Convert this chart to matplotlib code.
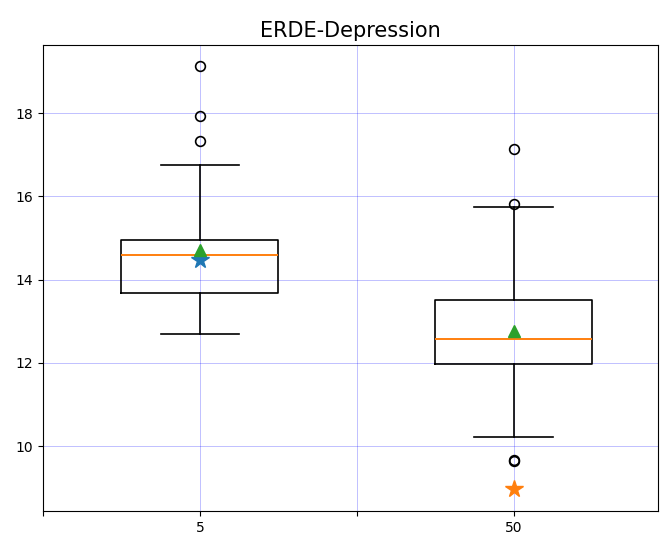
import numpy as np
import matplotlib
matplotlib.use("Agg")
import matplotlib.pyplot as plt

labels = ['5', '50']
whislo = [12.69, 10.21]
q1 = [13.67, 11.97]
med = [14.59, 12.57]
q3 = [14.96, 13.51]
whishi = [16.75, 15.74]
means = [14.70, 12.77]
fliers = [[17.33, 17.93, 19.14], [9.65, 9.67, 15.81, 17.14]]
stars = [14.47, 8.96]

stats = []
for i in range(len(labels)):
    stats.append(dict(whislo=whislo[i], q1=q1[i], med=med[i], q3=q3[i],
                      whishi=whishi[i], mean=means[i], fliers=fliers[i],
                      label=labels[i]))

positions = [1, 3]

fig = plt.figure(figsize=(6.6, 5.38), dpi=100)
ax = fig.add_axes([0.065, 0.05, 0.932, 0.866])

lw = 1.2
ax.bxp(stats, positions=positions, widths=1.0, showmeans=True,
       boxprops=dict(linewidth=lw), whiskerprops=dict(linewidth=lw),
       capprops=dict(linewidth=lw), medianprops=dict(linewidth=1.4, color='tab:orange'),
       flierprops=dict(markeredgewidth=1.2, markersize=7),
       meanprops=dict(marker='^', markerfacecolor='tab:green',
                      markeredgecolor='tab:green', markersize=8))
ax.plot(positions[0], stars[0], '*', color='tab:blue', markersize=13)
ax.plot(positions[1], stars[1], '*', color='tab:orange', markersize=13)

ax.set_xticks([0, 1, 2, 3])
ax.set_xticklabels(['', '5', '', '50'])
ax.set_xlim(0, 3.92)
ax.set_ylim(8.44, 19.63)
ax.set_yticks([10, 12, 14, 16, 18])
ax.grid(True, color='blue', alpha=0.25, linewidth=0.7)
ax.set_title('ERDE-Depression', fontsize=15)

fig.savefig('out.png', dpi=100)
